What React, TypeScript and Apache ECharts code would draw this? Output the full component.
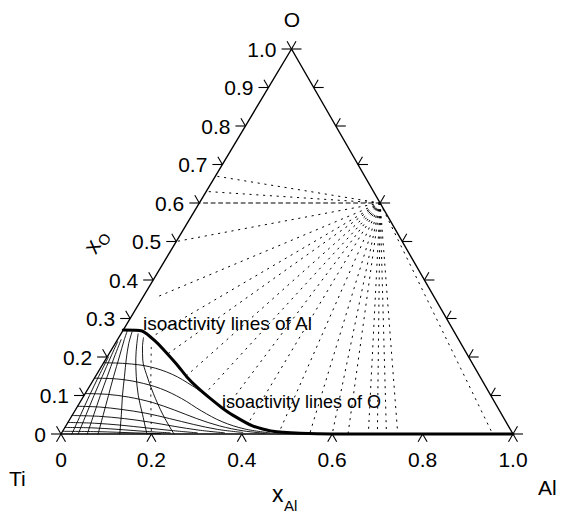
import React, { useEffect, useRef } from "react";
import * as echarts from "echarts";

const SHEAR = 0.51;
const FONT = "'Liberation Sans', Arial, Helvetica, sans-serif";

// ternary tick values (x_O on the left/right edges, x_Al on the base)
const leftTicks = [0, 0.1, 0.2, 0.3, 0.4, 0.5, 0.6, 0.7, 0.8, 0.9, 1.0];
const leftTickLabels = ["0", "0.1", "0.2", "0.3", "0.4", "0.5", "0.6", "0.7", "0.8", "0.9", "1.0"];
const rightTicks = [0, 0.1, 0.2, 0.3, 0.4, 0.5, 0.6, 0.7, 0.8, 0.9, 1.0];
const bottomTicks = [0, 0.2, 0.4, 0.6, 0.8, 1.0];
const bottomTickLabels = ["0", "0.2", "0.4", "0.6", "0.8", "1.0"];

// triangle corners Ti -> Al -> O -> Ti (x_Al, x_O)
const cornerAl = [0, 1, 0, 0];
const cornerO = [0, 0, 1, 0];

// thick phase boundary (x_Al, x_O)
const boundaryAl = [0, 0.043, 0.09, 0.127, 0.165, 0.202, 0.24, 0.282, 0.32, 0.355, 0.413, 0.465, 0.529, 0.6, 1.0];
const boundaryO = [0.27, 0.2675, 0.238, 0.21, 0.18, 0.149, 0.121, 0.093, 0.069, 0.049, 0.021, 0.007, 0.002, 0, 0];

// isoactivity lines of O (roughly horizontal)
const isoOAl = [
  [0, 0.05, 0.106, 0.167, 0.227, 0.27],
  [0, 0.05, 0.1, 0.16, 0.22, 0.28, 0.34, 0.4, 0.46],
  [0, 0.05, 0.1, 0.16, 0.22, 0.28, 0.34, 0.4, 0.45],
  [0, 0.05, 0.1, 0.16, 0.22, 0.28, 0.34, 0.4],
  [0, 0.06, 0.12, 0.18, 0.24, 0.3, 0.36],
  [0, 0.06, 0.12, 0.18, 0.24, 0.3],
  [0, 0.06, 0.12, 0.18, 0.24],
  [0, 0.08, 0.16, 0.22],
];
const isoOO = [
  [0.185, 0.183, 0.175, 0.155, 0.125, 0.1],
  [0.145, 0.143, 0.135, 0.118, 0.092, 0.06, 0.032, 0.013, 0.003],
  [0.105, 0.103, 0.096, 0.082, 0.062, 0.04, 0.021, 0.008, 0.002],
  [0.072, 0.07, 0.064, 0.054, 0.04, 0.025, 0.012, 0.004],
  [0.048, 0.046, 0.04, 0.031, 0.02, 0.01, 0.003],
  [0.03, 0.028, 0.023, 0.016, 0.009, 0.003],
  [0.017, 0.016, 0.012, 0.007, 0.003],
  [0.007, 0.006, 0.003, 0.001],
];

// isoactivity lines of Al (roughly vertical)
const isoAlAl = [
  [0.25, 0.2, 0.15, 0.11, 0.083, 0.065, 0.055],
  [0.19, 0.155, 0.12, 0.09, 0.066, 0.048, 0.038],
  [0.13, 0.108, 0.085, 0.064, 0.045, 0.03, 0.022],
  [0.082, 0.068, 0.054, 0.04, 0.027, 0.015, 0.01],
  [0.058, 0.047, 0.036, 0.026, 0.016, 0.008],
  [0.038, 0.03, 0.022, 0.015, 0.008, 0.003],
  [0.024, 0.018, 0.012, 0.007, 0.003],
];
const isoAlO = [
  [0, 0.05, 0.106, 0.155, 0.192, 0.226, 0.25],
  [0, 0.05, 0.1, 0.15, 0.195, 0.235, 0.26],
  [0, 0.05, 0.1, 0.15, 0.195, 0.235, 0.265],
  [0, 0.05, 0.1, 0.15, 0.2, 0.245, 0.268],
  [0, 0.05, 0.1, 0.15, 0.2, 0.245],
  [0, 0.05, 0.1, 0.15, 0.2, 0.24],
  [0, 0.05, 0.1, 0.15, 0.2],
];

// dotted curve inside the Ti(O) field
const dottedCurveAl = [0.085, 0.14, 0.2];
const dottedCurveO = [0.225, 0.115, 0];

// tie lines from Al2O3
const al2o3Al = 0.4;
const al2o3O = 0.6;
const tieEndAl = [0, 0, 0, 0.031, 0.07, 0.13, 0.2, 0.265, 0.33, 0.4, 0.48, 0.55, 0.6, 0.635, 0.68, 0.7, 0.72, 0.745, 0.955];
const tieEndO = [0.67, 0.63, 0.5, 0.356, 0.25, 0.208, 0.15, 0.104, 0.064, 0.028, 0.006, 0, 0, 0, 0, 0, 0, 0, 0];
const dashedEndAl = [0];
const dashedEndO = [0.6];

const toXY = (a: number, o: number) => [a + SHEAR * o, o];

const lineSeries = (al: number[], o: number[], width: number, type: any, smooth: number | boolean) => ({
  type: "line",
  data: al.map((a, i) => toXY(a, o[i])),
  showSymbol: false,
  symbol: "none",
  smooth,
  silent: true,
  clip: false,
  lineStyle: { color: "#000", width, type, cap: "round", join: "round" },
});

const seg = (x1: number, y1: number, x2: number, y2: number, w = 1.1) => ({
  type: "line",
  shape: { x1, y1, x2, y2 },
  style: { stroke: "#000", lineWidth: w },
});

const tickText = (text: string, x: number, y: number, align: string) => ({
  type: "text",
  style: { text, x, y, align, verticalAlign: "middle", fontSize: 21, fontFamily: FONT, fill: "#000" },
});

export default function App() {
  const ref = useRef<HTMLDivElement>(null);
  useEffect(() => {
    if (!ref.current) return;
    const chart = echarts.init(ref.current, undefined, { renderer: "svg" });
    const series: any[] = [];

    // tie lines
    tieEndAl.forEach((a, i) => {
      series.push(lineSeries([al2o3Al, a], [al2o3O, tieEndO[i]], 1, [1.3, 5.5], false));
    });
    dashedEndAl.forEach((a, i) => {
      series.push(lineSeries([al2o3Al, a], [al2o3O, dashedEndO[i]], 1, [4, 3.5], false));
    });
    series.push(lineSeries(dottedCurveAl, dottedCurveO, 1, [1.3, 5.5], 0.3));

    // isoactivity lines
    isoOAl.forEach((al, i) => series.push(lineSeries(al, isoOO[i], 0.9, "solid", 0.35)));
    isoAlAl.forEach((al, i) => series.push(lineSeries(al, isoAlO[i], 0.9, "solid", 0.35)));

    // triangle
    series.push(lineSeries(cornerAl, cornerO, 1.4, "solid", false));
    // thick boundary
    series.push(lineSeries(boundaryAl, boundaryO, 3, "solid", 0.2));

    // left ticks + labels
    series.push({
      type: "custom",
      coordinateSystem: "cartesian2d",
      clip: false,
      silent: true,
      data: leftTicks.map((v, i) => [SHEAR * v, v, i]),
      renderItem: (_p: any, api: any) => {
        const p = api.coord([api.value(0), api.value(1)]);
        const i = api.value(2);
        return {
          type: "group",
          children: [
            seg(p[0], p[1], p[0] - 10, p[1]),
            seg(p[0], p[1], p[0] - 4.5, p[1] - 7.8),
            tickText(leftTickLabels[i], p[0] - 15, p[1], "right"),
          ],
        };
      },
    });
    // right ticks
    series.push({
      type: "custom",
      coordinateSystem: "cartesian2d",
      clip: false,
      silent: true,
      data: rightTicks.map((v) => [1 - v + SHEAR * v, v]),
      renderItem: (_p: any, api: any) => {
        const p = api.coord([api.value(0), api.value(1)]);
        return {
          type: "group",
          children: [seg(p[0], p[1], p[0] + 10, p[1]), seg(p[0], p[1], p[0] + 4.5, p[1] - 7.8)],
        };
      },
    });
    // bottom ticks + labels
    series.push({
      type: "custom",
      coordinateSystem: "cartesian2d",
      clip: false,
      silent: true,
      data: bottomTicks.map((v, i) => [v, 0, i]),
      renderItem: (_p: any, api: any) => {
        const p = api.coord([api.value(0), api.value(1)]);
        const i = api.value(2);
        return {
          type: "group",
          children: [
            seg(p[0], p[1], p[0] - 4.5, p[1] + 7.8),
            seg(p[0], p[1], p[0] + 4.5, p[1] + 7.8),
            tickText(bottomTickLabels[i], p[0], p[1] + 25, "center"),
          ],
        };
      },
    });

    const txt = (text: string, x: number, y: number, fontSize: number, align = "left") => ({
      type: "text",
      x,
      y,
      style: { text, fontSize, fontFamily: FONT, fill: "#000", align, verticalAlign: "middle" },
    });

    chart.setOption({
      animation: false,
      backgroundColor: "#fff",
      grid: { left: 61, right: 48, top: 49, bottom: 79 },
      xAxis: { type: "value", min: 0, max: 1, show: false },
      yAxis: { type: "value", min: 0, max: 1, show: false },
      series,
      graphic: [
        txt("O", 292, 19, 21, "center"),
        txt("Ti", 9, 478, 21),
        txt("Al", 538, 487, 21),
        txt("x", 272, 494, 23),
        txt("Al", 284, 505, 15),
        {
          type: "group",
          x: 92,
          y: 246,
          rotation: (59 * Math.PI) / 180,
          children: [
            { type: "text", x: -6, y: 0, style: { text: "x", fontSize: 23, fontFamily: FONT, fill: "#000", verticalAlign: "middle" } },
            { type: "text", x: 6, y: 7, style: { text: "O", fontSize: 15, fontFamily: FONT, fill: "#000", verticalAlign: "middle" } },
          ],
        },
        txt("isoactivity lines of Al", 143, 323, 19),
        txt("isoactivity lines of O", 222, 402, 18),
      ],
    });
    return () => chart.dispose();
  }, []);
  return <div ref={ref} style={{ position: "fixed", left: 0, top: 0, width: 561, height: 513, background: "#fff" }} />;
}
